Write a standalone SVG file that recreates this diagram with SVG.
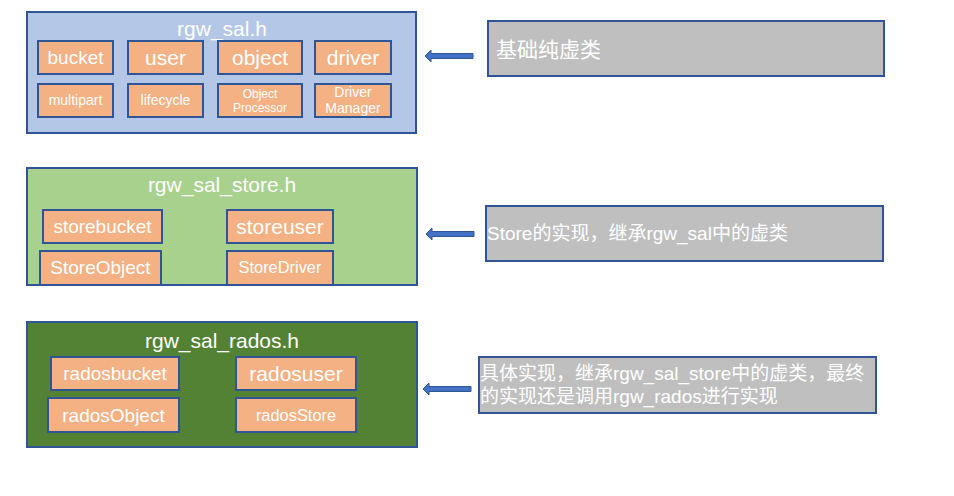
<svg xmlns="http://www.w3.org/2000/svg" width="954" height="496" viewBox="0 0 954 496">
<style>
text{font-family:"Liberation Sans",Arial,"Noto Sans CJK SC",sans-serif;fill:#ffffff}
.c{text-anchor:middle}
.box{fill:#f4b183;stroke:#2f5597;stroke-width:2}
.cont{stroke:#2f5597;stroke-width:2}
.note{fill:#bfbfbf;stroke:#2f5597;stroke-width:2}
.arr{fill:#4472c4;stroke:#2f5597;stroke-width:1}
.t{font-size:21px}
</style>
<rect width="954" height="496" fill="#ffffff"/>
<g id="rgw_sal">
<rect class="cont" x="27" y="12" width="389" height="121" fill="#b4c7e7"/>
<text class="c t" x="222" y="36">rgw_sal.h</text>
</g>
<g id="bucket"><rect class="box" x="38" y="41" width="75" height="33"/><text class="c" x="75.5" y="64" font-size="19">bucket</text></g>
<g id="user"><rect class="box" x="128" y="41" width="75" height="33"/><text class="c t" x="165.5" y="65">user</text></g>
<g id="object"><rect class="box" x="218" y="41" width="84" height="33"/><text class="c t" x="260" y="65">object</text></g>
<g id="driver"><rect class="box" x="315" y="41" width="76" height="33"/><text class="c t" x="353" y="65">driver</text></g>
<g id="multipart"><rect class="box" x="38" y="84" width="75" height="33"/><text class="c" x="75.5" y="105" font-size="14">multipart</text></g>
<g id="lifecycle"><rect class="box" x="128" y="84" width="75" height="33"/><text class="c" x="165.5" y="105" font-size="14">lifecycle</text></g>
<g id="objectprocessor"><rect class="box" x="218" y="84" width="84" height="33"/><text class="c" x="260" y="98" font-size="12">Object</text><text class="c" x="260" y="112" font-size="12">Processor</text></g>
<g id="drivermanager"><rect class="box" x="315" y="84" width="76" height="33"/><text class="c" x="353" y="97" font-size="14">Driver</text><text class="c" x="353" y="113" font-size="14">Manager</text></g>

<g id="rgw_sal_store">
<rect class="cont" x="27" y="168" width="390" height="117" fill="#a9d18e"/>
<text class="c t" x="222" y="192">rgw_sal_store.h</text>
</g>
<g id="storebucket"><rect class="box" x="43" y="210" width="119" height="33"/><text class="c" x="102.5" y="233" font-size="19">storebucket</text></g>
<g id="storeuser"><rect class="box" x="227" y="210" width="106" height="33"/><text class="c t" x="280" y="234">storeuser</text></g>
<g id="storeobject"><rect class="box" x="40" y="251" width="121" height="34"/><text class="c" x="100.5" y="274" font-size="19">StoreObject</text></g>
<g id="storedriver"><rect class="box" x="227" y="251" width="106" height="34"/><text class="c" x="280" y="273" font-size="16.4">StoreDriver</text></g>
<rect x="27" y="168" width="390" height="117" fill="none" class="cont"/>

<g id="rgw_sal_rados">
<rect class="cont" x="27" y="322" width="390" height="125" fill="#548235"/>
<text class="c t" x="222" y="348">rgw_sal_rados.h</text>
</g>
<g id="radosbucket"><rect class="box" x="51" y="357" width="128" height="33"/><text class="c" x="115" y="380" font-size="19">radosbucket</text></g>
<g id="radosuser"><rect class="box" x="236" y="357" width="120" height="33"/><text class="c t" x="296" y="381">radosuser</text></g>
<g id="radosobject"><rect class="box" x="48" y="398" width="131" height="34"/><text class="c" x="113.5" y="422" font-size="19">radosObject</text></g>
<g id="radosstore"><rect class="box" x="236" y="398" width="120" height="34"/><text class="c" x="296" y="421" font-size="16.4">radosStore</text></g>

<g id="note1"><rect class="note" x="488" y="21" width="396" height="55"/><text x="496" y="57" font-size="21">基础纯虚类</text></g>
<g id="note2"><rect class="note" x="486" y="206" width="397" height="55"/><text x="487" y="240" font-size="19">Store的实现，继承rgw_sal中的虚类</text></g>
<g id="note3"><rect class="note" x="479" y="357" width="397" height="56"/><text x="480" y="380" font-size="19">具体实现，继承rgw_sal_store中的虚类，最终</text><text x="480" y="403" font-size="19">的实现还是调用rgw_rados进行实现</text></g>

<g id="connectors">
<polygon class="arr" points="425,56 431,50 431,53.5 473,53.5 473,58.5 431,58.5 431,62"/>
<polygon class="arr" points="426,234 432,228 432,231.5 474,231.5 474,236.5 432,236.5 432,240"/>
<polygon class="arr" points="423,389 429,383 429,386.5 471,386.5 471,391.5 429,391.5 429,395"/>
</g>
</svg>
